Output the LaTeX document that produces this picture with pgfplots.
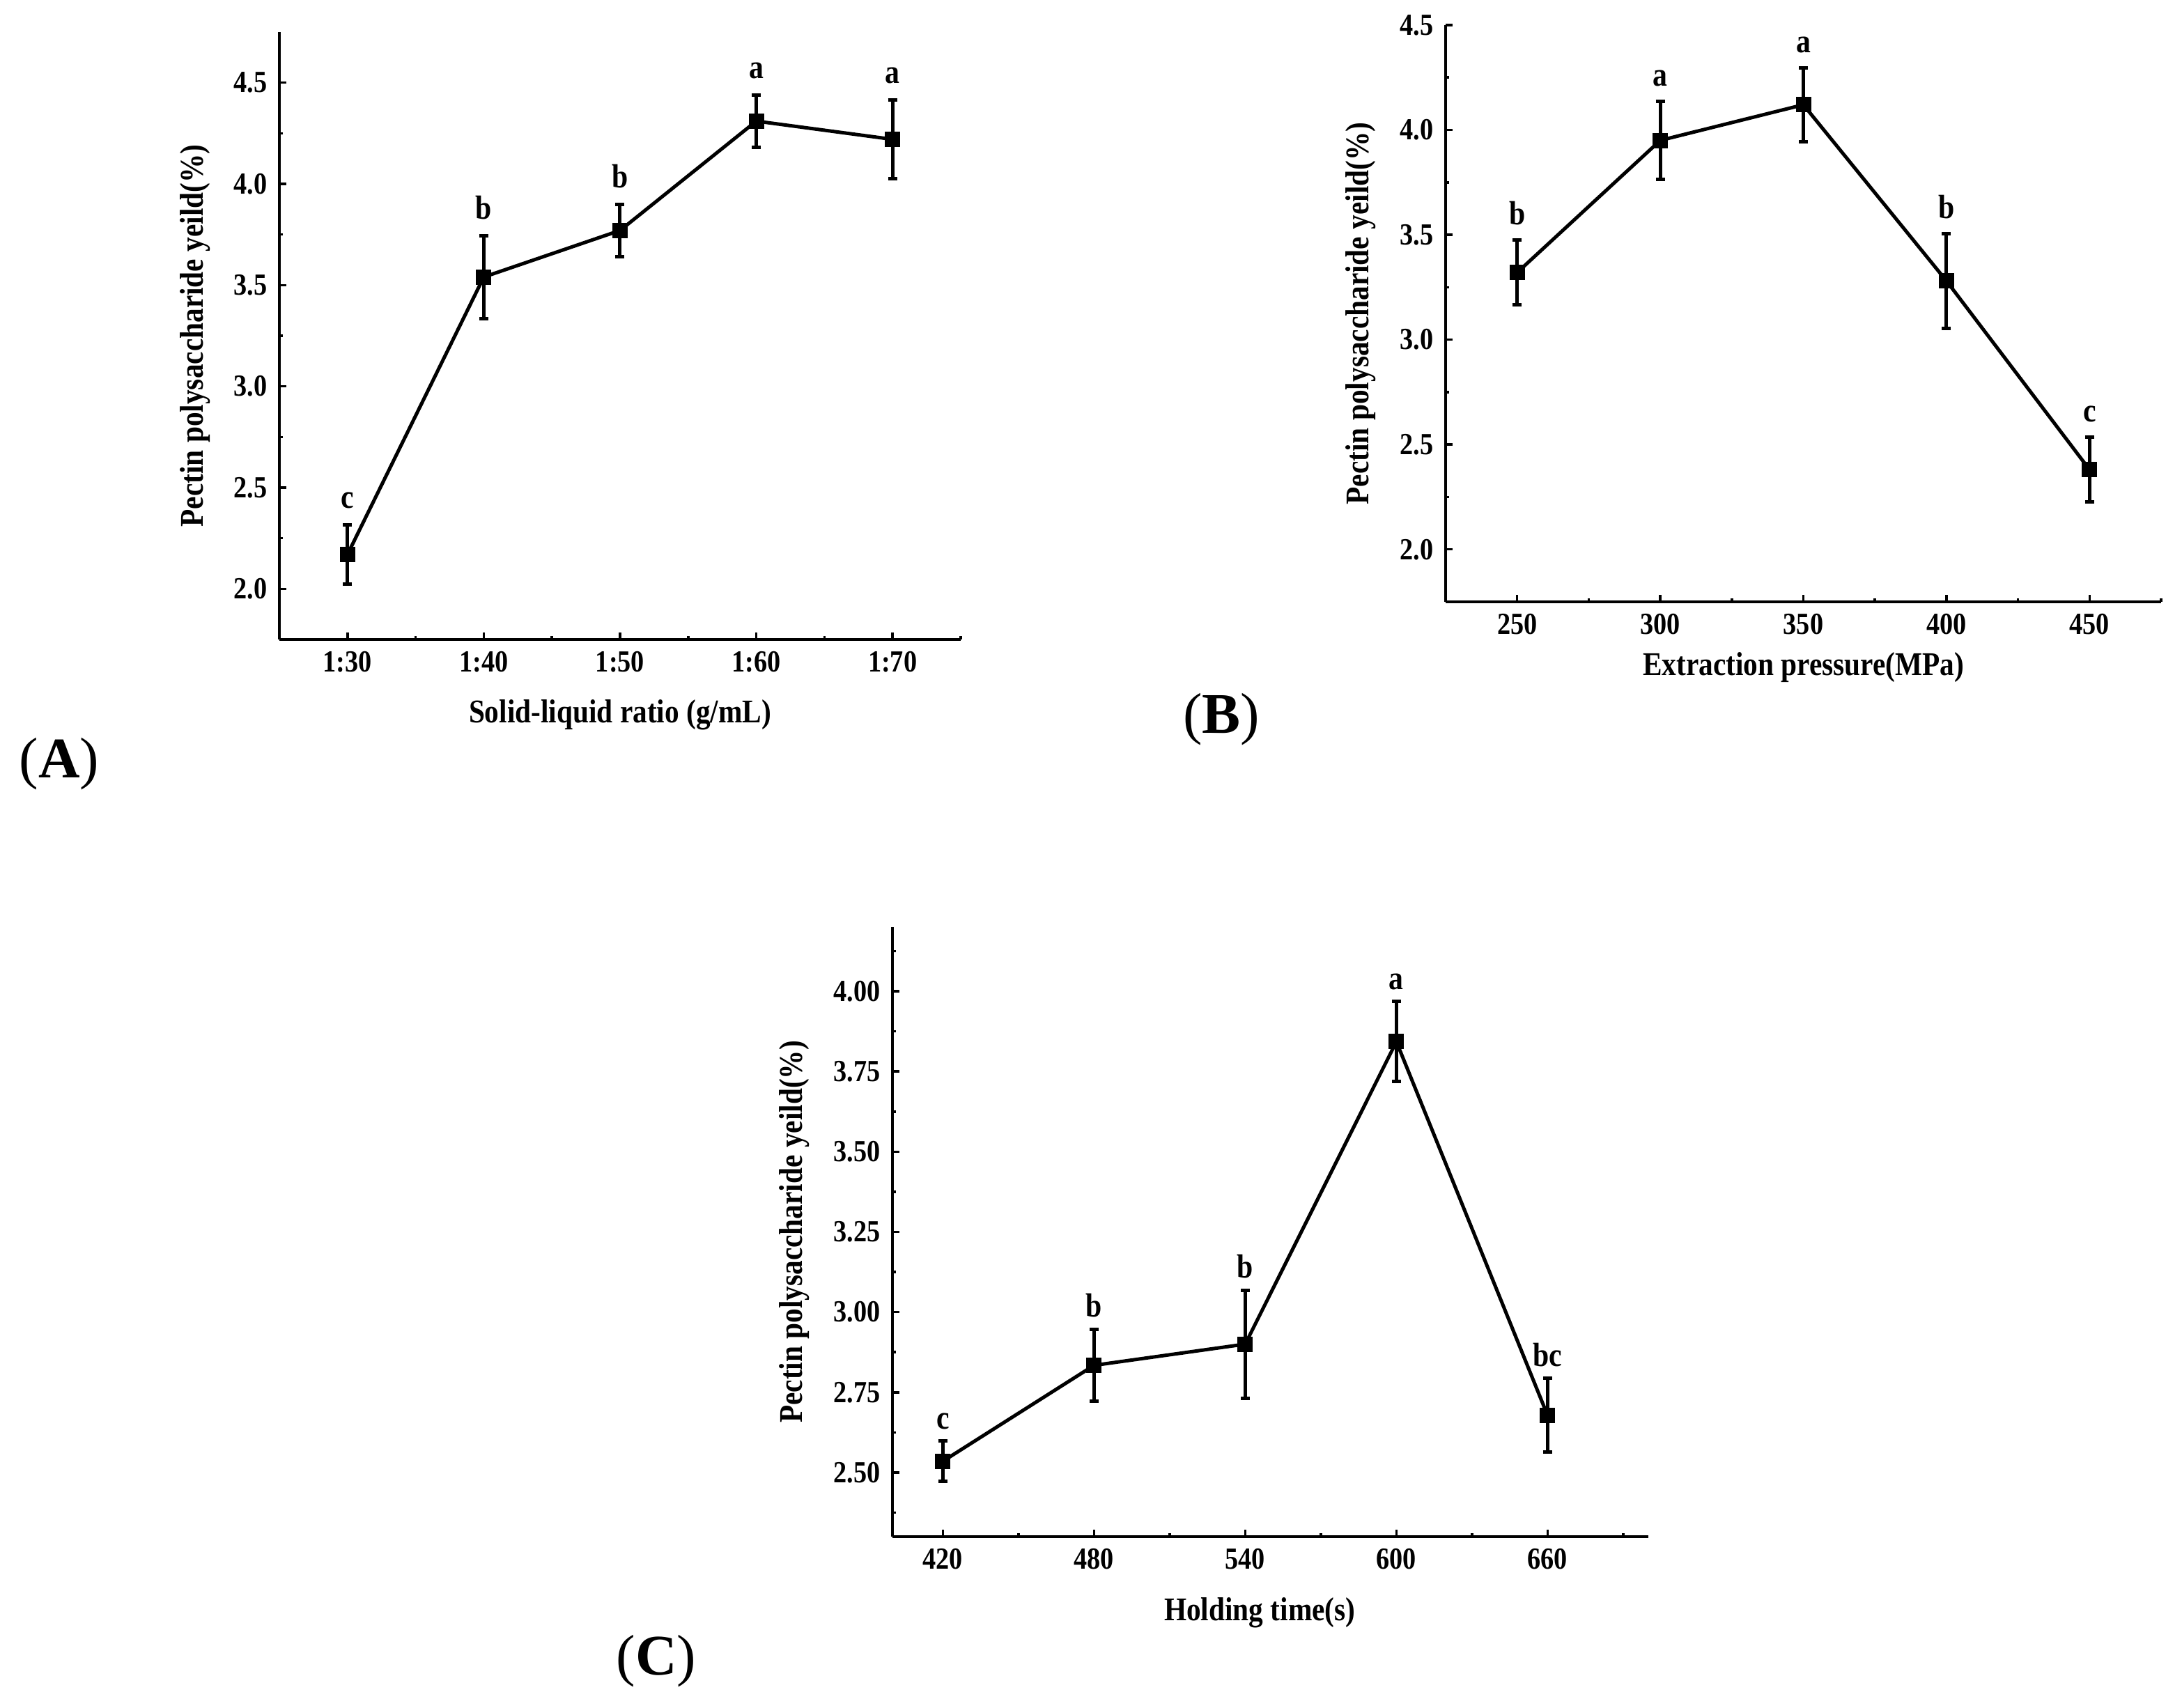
\documentclass[border=0pt]{standalone}
\usepackage{fontspec}
\setmainfont{Liberation Serif}[FakeStretch=0.87]
\newfontfamily\plainserif{Liberation Serif}
\usepackage{pgfplots}
\pgfplotsset{compat=1.18}
\usepackage{pgfplotstable}

% x, mean yield, error (+-), significance letter
\pgfplotstableread{
x y e lab
30 2.17 0.145 c
40 3.54 0.205 b
50 3.77 0.13 b
60 4.31 0.13 a
70 4.22 0.195 a
}\ratio

\pgfplotstableread{
x y e lab
250 3.32 0.155 b
300 3.95 0.185 a
350 4.12 0.175 a
400 3.28 0.225 b
450 2.38 0.155 c
}\pressure

\pgfplotstableread{
x y e lab
420 2.535 0.063 c
480 2.834 0.112 b
540 2.90 0.168 b
600 3.843 0.125 a
660 2.678 0.115 bc
}\holding

\newcommand\labfont{\fontsize{9.5}{11}\selectfont\bfseries}

\pgfplotsset{
  panel/.style={
    scale only axis,
    anchor=south west,
    clip=false,
    axis lines=left,
    axis line style={-, line width=0.7pt},
    every outer x axis line/.append style={-},
    every outer y axis line/.append style={-},
    tick align=inside,
    major tick length=2pt,
    minor tick length=1pt,
    major tick style={black, line width=0.7pt},
    minor tick style={black, line width=0.7pt},
    tick label style={font=\fontsize{8.8}{10}\selectfont\bfseries},
    /pgf/number format/assume math mode=true,
    ylabel={Pectin polysaccharide yeild(\%)},
  },
  series/.style={
    black, line width=1pt, mark=square*, mark size=1.7pt,
    error bars/.cd, y dir=both, y explicit,
    error bar style={line width=1pt},
    error mark options={rotate=90, line width=1pt, mark size=1.3pt},
  },
  letters/.style={
    draw=none, nodes near coords, point meta=explicit symbolic,
    nodes near coords style={anchor=base, inner sep=0pt, yshift=#1,
      font=\fontsize{9.6}{11}\selectfont\bfseries},
  },
}

\begin{document}
\begin{tikzpicture}
\useasboundingbox (0,0) rectangle (626.4pt,490.2pt);

% (A) solid-liquid ratio
\begin{axis}[panel,
  at={(80.2pt,306.6pt)}, width=195.6pt, height=174.4pt,
  xmin=25, xmax=75, ymin=1.75, ymax=4.75,
  xtick={30,40,50,60,70},
  xticklabels={1:30,1:40,1:50,1:60,1:70},
  minor xtick={35,45,55,65,75},
  ytick={2,2.5,3,3.5,4,4.5},
  minor ytick={2.25,2.75,3.25,3.75,4.25},
  yticklabel style={/pgf/number format/.cd, fixed, fixed zerofill, precision=1},
  xlabel={Solid-liquid ratio (g/mL)},
  every axis x label/.style={at={(axis description cs:0.5,-0.124)}, anchor=center, font=\labfont},
  every axis y label/.style={at={(axis description cs:-0.124,0.5)}, rotate=90, anchor=center, font=\labfont},
]
\addplot[series] table[x=x, y=y, y error=e] {\ratio};
\addplot[letters=4.8pt] table[x=x, y expr=\thisrow{y}+\thisrow{e}, meta=lab] {\ratio};
\end{axis}

% (B) extraction pressure
\begin{axis}[panel,
  at={(415pt,317.4pt)}, width=205.4pt, height=165.6pt,
  xmin=225, xmax=475, ymin=1.75, ymax=4.5,
  xtick={250,300,350,400,450},
  minor xtick={275,325,375,425,475},
  ytick={2,2.5,3,3.5,4,4.5},
  minor ytick={2.25,2.75,3.25,3.75,4.25},
  yticklabel style={/pgf/number format/.cd, fixed, fixed zerofill, precision=1},
  xlabel={Extraction pressure(MPa)},
  every axis x label/.style={at={(axis description cs:0.5,-0.1135)}, anchor=center, font=\labfont},
  every axis y label/.style={at={(axis description cs:-0.119,0.5)}, rotate=90, anchor=center, font=\labfont},
]
\addplot[series] table[x=x, y=y, y error=e] {\pressure};
\addplot[letters=4.5pt] table[x=x, y expr=\thisrow{y}+\thisrow{e}, meta=lab] {\pressure};
\end{axis}

% (C) holding time
\begin{axis}[panel,
  at={(256.2pt,49pt)}, width=217pt, height=175pt,
  xmin=400, xmax=700, ymin=2.3, ymax=4.2,
  xtick={420,480,540,600,660},
  minor xtick={450,510,570,630,690},
  ytick={2.5,2.75,3,3.25,3.5,3.75,4},
  minor ytick={2.375,2.625,2.875,3.125,3.375,3.625,3.875,4.125},
  yticklabel style={/pgf/number format/.cd, fixed, fixed zerofill, precision=2},
  xlabel={Holding time(s)},
  every axis x label/.style={at={(axis description cs:0.486,-0.1246)}, anchor=center, font=\labfont},
  every axis y label/.style={at={(axis description cs:-0.130,0.5)}, rotate=90, anchor=center, font=\labfont},
]
\addplot[series] table[x=x, y=y, y error=e] {\holding};
\addplot[letters=3.5pt] table[x=x, y expr=\thisrow{y}+\thisrow{e}, meta=lab] {\holding};
\end{axis}

\node[font=\plainserif\fontsize{16.5}{19}\selectfont] at (17pt,270.8pt) {(\textbf{A})};
\node[font=\plainserif\fontsize{16.5}{19}\selectfont] at (350.6pt,283.6pt) {(\textbf{B})};
\node[font=\plainserif\fontsize{16.5}{19}\selectfont] at (188.4pt,13.2pt) {(\textbf{C})};
\end{tikzpicture}
\end{document}
